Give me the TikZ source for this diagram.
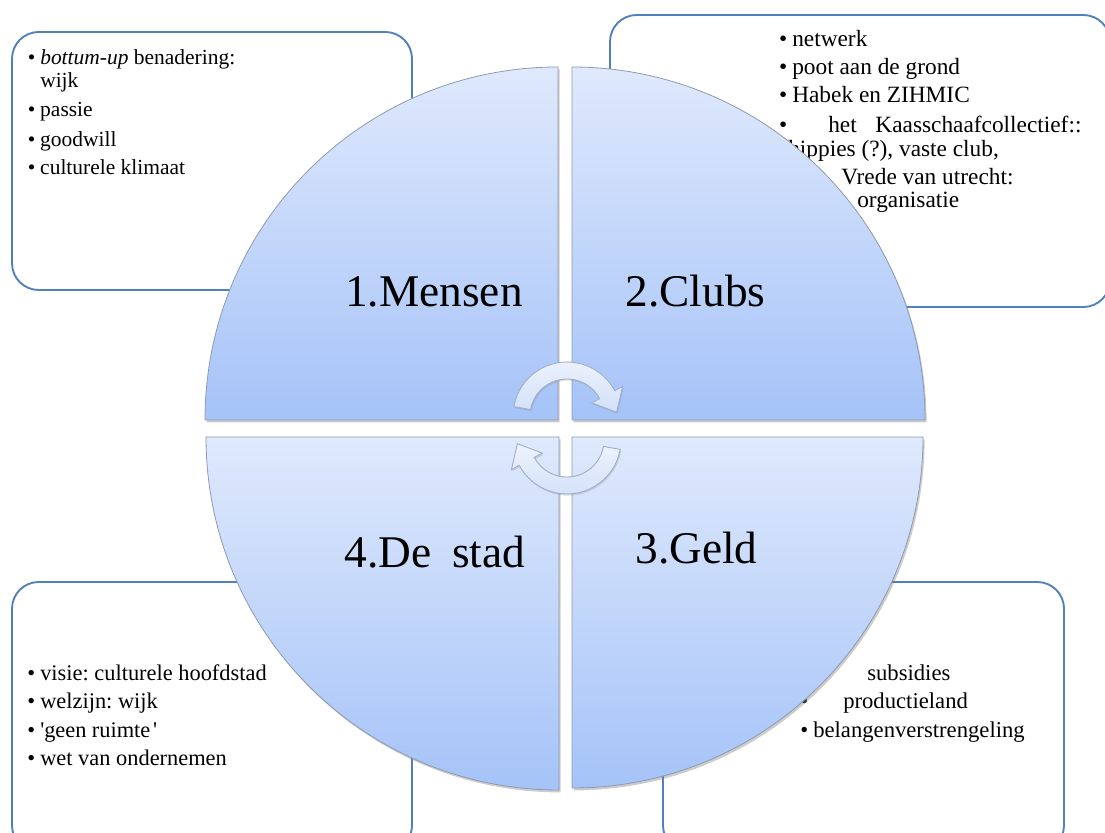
\documentclass[tikz,border=0pt]{standalone}
\usepackage{fontspec}
\setmainfont{Liberation Serif}
\usetikzlibrary{shadows}
\frenchspacing

\definecolor{boxline}{HTML}{4F81BD}
\definecolor{segtop}{HTML}{DFE9FC}
\definecolor{segbot}{HTML}{A5C3F8}
\definecolor{segedge}{HTML}{8E9AAE}
\definecolor{arrowtop}{HTML}{EEF3FD}
\definecolor{arrowbot}{HTML}{D2E0F8}
\definecolor{arrowedge}{HTML}{9FB0CB}

% bullet hung to the left of a line
\newcommand\itembul{\llap{\textbullet\hspace{3.75pt}}}
% straight apostrophe, bypassing the TeX quote mapping
\newcommand\sq{\XeTeXglyph\XeTeXcharglyph"0027\relax}

\tikzset{
  infobox/.style={draw=boxline, line width=1.4pt, rounded corners=20pt, fill=white},
  segment/.style={top color=segtop, bottom color=segbot, draw=segedge, line width=0.6pt,
    drop shadow={shadow xshift=1.2pt, shadow yshift=-1.8pt, opacity=0.4}},
  seglabel/.style={font=\fontsize{34}{40}\selectfont, anchor=base, inner sep=0pt},
  itemone/.style={font=\fontsize{16.1}{19}\selectfont, anchor=base west, inner sep=0pt},
  itemtwo/.style={font=\fontsize{17.5}{21}\selectfont, anchor=base west, inner sep=0pt},
  itemthree/.style={font=\fontsize{16.8}{20}\selectfont, anchor=base west, inner sep=0pt},
  itemfour/.style={font=\fontsize{17}{20}\selectfont, anchor=base west, inner sep=0pt},
  turnarrow/.style={top color=arrowtop, bottom color=arrowbot, draw=arrowedge, line width=0.7pt,
    drop shadow={shadow xshift=0.8pt, shadow yshift=-1.2pt, opacity=0.25}},
  cyclearrow/.pic={
    \path[turnarrow] (170:54) arc[start angle=170, end angle=28, radius=54]
      -- (28:63) -- (49.6,3.7) -- (28:28) -- (28:37)
      arc[start angle=28, end angle=170, radius=37] -- cycle;
  }
}

\begin{document}
\begin{tikzpicture}[x=0.75pt, y=0.75pt]
\useasboundingbox (0,0) rectangle (1105,832);
\clip (0,0) rectangle (1105,832);
\fill[white] (0,0) rectangle (1105,832);

% text boxes behind the circle
\draw[infobox] (12,542) rectangle (412,800);
\draw[infobox] (610,525) rectangle (1110,817);
\draw[infobox] (12,-20) rectangle (412,250);
\draw[infobox] (663,-20) rectangle (1064,250);

% box 1
\node[itemone] (b1a) at (40,767) {\itembul\textit{bottum-up} benadering:};
\node[itemone] (b1b) at (40,744) {wijk};
\node[itemone] (b1c) at (40,715) {\itembul passie};
\node[itemone] (b1d) at (40,685) {\itembul goodwill};
\node[itemone] (b1e) at (40,657) {\itembul culturele klimaat};

% box 2
\node[itemtwo] (b2a) at (792,785) {\itembul netwerk};
\node[itemtwo] (b2b) at (792,757) {\itembul poot aan de grond};
\node[itemtwo] (b2c) at (792,729) {\itembul Habek en ZIHMIC};
\node[itemtwo] (b2d) at (828,699) {\llap{\textbullet\hspace{30.75pt}}het\hspace{14pt}Kaasschaafcollectief::};
\node[itemtwo] (b2e) at (788,675) {hippies (?), vaste club,};
\node[itemtwo] (b2f) at (841,647) {Vrede van utrecht:};
\node[itemtwo] (b2g) at (857,624) {organisatie};

% box 3
\node[itemthree] (b3a) at (40,152) {\itembul visie: culturele hoofdstad};
\node[itemthree] (b3b) at (40,124) {\itembul welzijn: wijk};
\node[itemthree] (b3c) at (40,95) {\itembul\sq geen\hspace{4pt}ruimte\hspace{2pt}\sq};
\node[itemthree] (b3d) at (40,67) {\itembul wet van ondernemen};

% box 4
\node[itemfour] (b4a) at (867,152) {subsidies};
\node[itemfour] (b4b) at (843,124) {\llap{\textbullet\hspace{26.25pt}}productieland};
\node[itemfour] (b4c) at (813,95) {\itembul belangenverstrengeling};

% the four quarter segments
\path[segment] (558,412) -- (205,412) arc[start angle=180, end angle=90, radius=353] -- cycle;
\path[segment] (572,412) -- (572,765) arc[start angle=90, end angle=0, radius=353] -- cycle;
\path[segment] (559,395) -- (206,395) arc[start angle=180, end angle=270, radius=353] -- cycle;
\path[segment] (572,395) -- (923,395) arc[start angle=0, end angle=-90, radius=351] -- cycle;

% segment titles
\node[seglabel] (l1) at (434,525) {1.Mensen};
\node[seglabel] (l2) at (695.5,525) {2.Clubs};
\node[seglabel] (l3) at (696.5,269) {3.Geld};
\node[seglabel] (l4) at (435,265) {4.De\hspace{0.45em}stad};

% circular arrows in the middle
\pic at (567,416) {cyclearrow};
\pic[rotate=180] at (567,392) {cyclearrow};
\end{tikzpicture}
\end{document}
